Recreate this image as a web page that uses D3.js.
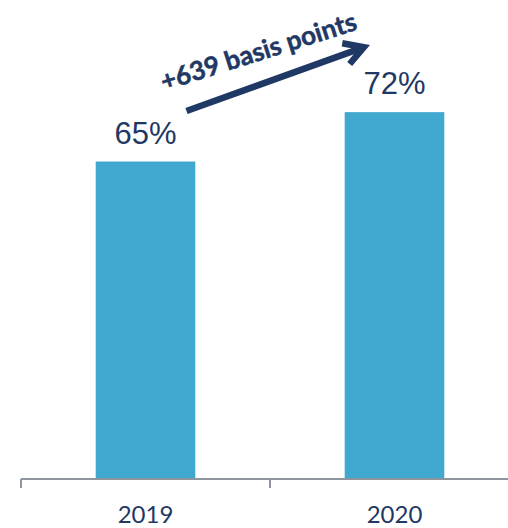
<!DOCTYPE html>
<html>
<head>
<meta charset="utf-8">
<script src="https://cdn.jsdelivr.net/npm/d3@7/dist/d3.min.js"></script>
<style>
  html, body { margin: 0; padding: 0; background: #ffffff; }
  svg { display: block; }
</style>
</head>
<body>
<svg id="chart" width="508" height="528"></svg>
<script>
// Share by year
const years = ["2019", "2020"];
const shares = [65, 72];
const valueLabels = ["65%", "72%"];
const annotation = "+639 basis points";

const navy = "#1f3864";
const barColor = "#41a8d0";
const axisColor = "#8f959e";

const svg = d3.select("#chart");
const baseY = 479;

const x = d3.scaleBand().domain(years).range([21, 519]).padding(0);
const y = d3.scaleLinear().domain([20, 80]).range([baseY, 55.7]);
const bw = x.bandwidth();
const barW = bw * 0.4;

// Bars
svg.selectAll("rect.bar")
  .data(years)
  .join("rect")
  .attr("class", "bar")
  .attr("x", d => x(d) + (bw - barW) / 2)
  .attr("width", barW)
  .attr("y", (d, i) => y(shares[i]))
  .attr("height", (d, i) => baseY - y(shares[i]))
  .attr("fill", barColor);

// Value labels above the bars
svg.selectAll("text.val")
  .data(years)
  .join("text")
  .attr("class", "val")
  .attr("x", d => x(d) + bw / 2)
  .attr("y", (d, i) => y(shares[i]) - 18)
  .attr("text-anchor", "middle")
  .attr("font-family", "'Liberation Sans', Arial, sans-serif")
  .attr("font-size", 31)
  .attr("fill", navy)
  .text((d, i) => valueLabels[i]);

// Category axis: baseline with ticks at band boundaries
const axis = svg.append("g");
axis.append("line")
  .attr("x1", x.range()[0]).attr("x2", 508)
  .attr("y1", baseY).attr("y2", baseY)
  .attr("stroke", axisColor).attr("stroke-width", 2);
const bounds = years.map(d => x(d)).concat([x.range()[1]]);
axis.selectAll("line.tick")
  .data(bounds)
  .join("line")
  .attr("class", "tick")
  .attr("x1", d => d).attr("x2", d => d)
  .attr("y1", baseY).attr("y2", baseY + 9)
  .attr("stroke", axisColor).attr("stroke-width", 2);

axis.selectAll("text.cat")
  .data(years)
  .join("text")
  .attr("class", "cat")
  .attr("x", d => x(d) + bw / 2)
  .attr("y", 523)
  .attr("text-anchor", "middle")
  .attr("font-family", "Lato, 'Open Sans', sans-serif")
  .attr("font-size", 24)
  .attr("fill", navy)
  .text(d => d);

// Growth arrow between the two bars
const start = [186.5, 111];
const tip = [370, 45];
const ang = Math.atan2(tip[1] - start[1], tip[0] - start[0]);
const sw = 6.5;
const half = Math.PI / 6;
const miter = (sw / 2) / Math.sin(half);
const apex = [tip[0] - miter * Math.cos(ang), tip[1] - miter * Math.sin(ang)];
const armLen = 22;
const arm = s => [apex[0] - armLen * Math.cos(ang + s * half), apex[1] - armLen * Math.sin(ang + s * half)];

const arrow = svg.append("g").attr("fill", "none").attr("stroke", navy).attr("stroke-width", sw);
arrow.append("path")
  .attr("d", d3.line()([start, [apex[0] - 2 * Math.cos(ang), apex[1] - 2 * Math.sin(ang)]]));
arrow.append("path")
  .attr("stroke-linejoin", "miter")
  .attr("stroke-miterlimit", 10)
  .attr("d", d3.line()([arm(1), apex, arm(-1)]));

// Annotation text along the arrow
const note = svg.append("text")
  .attr("font-family", "Lato, 'Open Sans', sans-serif")
  .attr("font-weight", "bold")
  .attr("font-size", 27)
  .attr("fill", navy)
  .attr("stroke", navy)
  .attr("stroke-width", 0.5)
  .attr("transform", "translate(164,91) rotate(-17.6)")
  .text(annotation);
const targetLen = 204;
const len = note.node().getComputedTextLength();
note.attr("font-size", 27 * targetLen / len);
</script>
</body>
</html>
